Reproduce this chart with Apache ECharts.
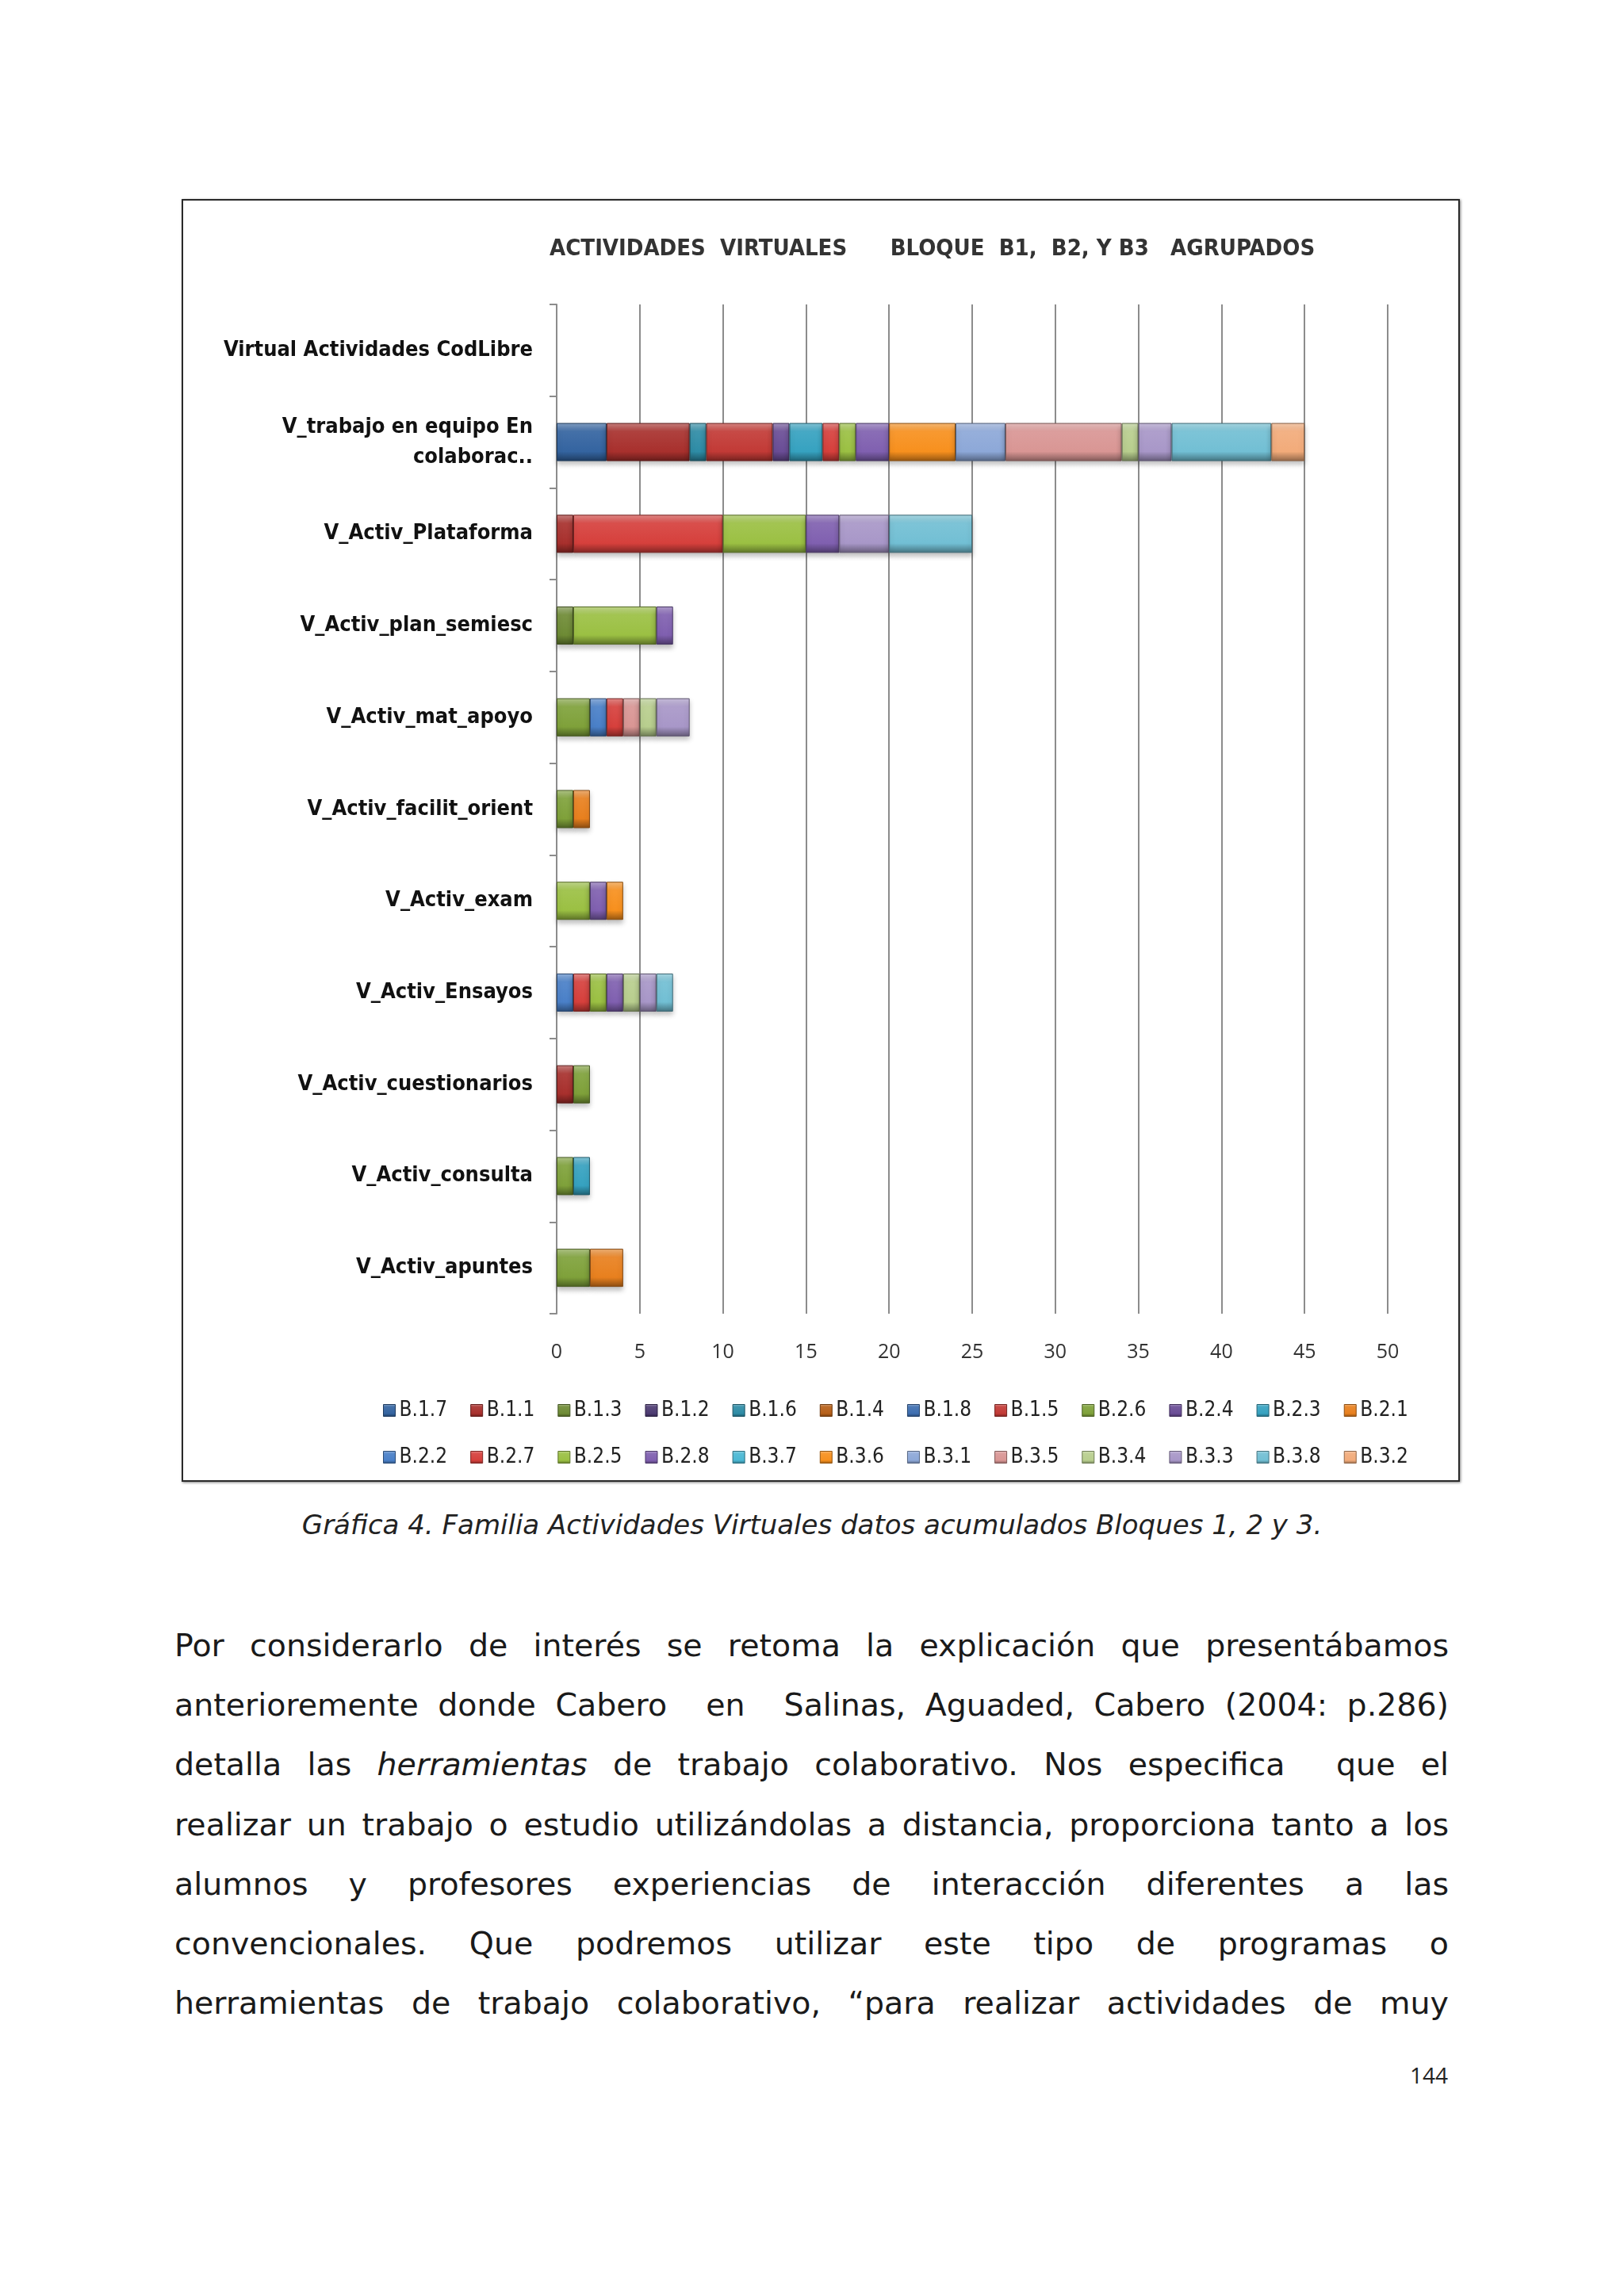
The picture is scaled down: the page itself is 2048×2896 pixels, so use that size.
<!DOCTYPE html>
<html><head><meta charset="utf-8">
<script src="https://cdn.jsdelivr.net/npm/echarts@6/dist/echarts.min.js"></script>
<style>
html,body{margin:0;padding:0;background:#fff;width:2048px;height:2896px;position:relative;overflow:hidden;}
#box{position:absolute;left:229px;top:251px;width:1608px;height:1614px;border:2px solid #2a2a2a;box-shadow:1px 1px 3px rgba(0,0,0,0.5);}
#chart{width:1608px;height:1614px;}
#caption{position:absolute;left:0;width:2048px;top:1900px;text-align:center;font-family:"DejaVu Sans",Verdana,sans-serif;font-style:italic;font-size:34px;line-height:46px;color:#222;}
#body{position:absolute;left:220px;width:1607px;top:2038px;font-family:"DejaVu Sans",Verdana,sans-serif;font-size:39.5px;color:#1a1a1a;}
#body div{height:75.2px;line-height:75.2px;text-align:justify;text-align-last:justify;}
#pnum{position:absolute;right:222px;top:2598px;font-family:"Open Sans",sans-serif;font-size:28px;color:#222;}
</style></head>
<body>
<div id="box"><div id="chart"></div></div>
<div id="caption">Gráfica 4. Familia Actividades Virtuales datos acumulados Bloques 1, 2 y 3.</div>
<div id="body">
<div>Por considerarlo de interés se retoma la explicación que presentábamos</div>
<div>anterioremente donde Cabero&nbsp; en&nbsp; Salinas, Aguaded, Cabero (2004: p.286)</div>
<div>detalla las <i>herramientas</i> de trabajo colaborativo. Nos especifica&nbsp; que el</div>
<div>realizar un trabajo o estudio utilizándolas a distancia, proporciona tanto a los</div>
<div>alumnos y profesores experiencias de interacción diferentes a las</div>
<div>convencionales. Que podremos utilizar este tipo de programas o</div>
<div>herramientas de trabajo colaborativo, “para realizar actividades de muy</div>
</div>
<div id="pnum">144</div>
<script>
// Categories, bottom to top
const categories = ['V_Activ_apuntes','V_Activ_consulta','V_Activ_cuestionarios','V_Activ_Ensayos','V_Activ_exam','V_Activ_facilit_orient','V_Activ_mat_apoyo','V_Activ_plan_semiesc','V_Activ_Plataforma','V_trabajo en equipo En\ncolaborac..','Virtual Actividades CodLibre'];
const xTicks = [0,5,10,15,20,25,30,35,40,45,50];
const seriesNames = ['B.1.7','B.1.1','B.1.3','B.1.2','B.1.6','B.1.4','B.1.8','B.1.5','B.2.6','B.2.4','B.2.3','B.2.1','B.2.2','B.2.7','B.2.5','B.2.8','B.3.7','B.3.6','B.3.1','B.3.5','B.3.4','B.3.3','B.3.8','B.3.2'];
// values per series, in category order (apuntes ... CodLibre)
const vB17 = [0,0,0,0,0,0,0,0,0,3,0];
const vB11 = [0,0,1,0,0,0,0,0,1,5,0];
const vB13 = [0,0,0,0,0,0,0,1,0,0,0];
const vB12 = [0,0,0,0,0,0,0,0,0,0,0];
const vB16 = [0,0,0,0,0,0,0,0,0,1,0];
const vB14 = [0,0,0,0,0,0,0,0,0,0,0];
const vB18 = [0,0,0,0,0,0,0,0,0,0,0];
const vB15 = [0,0,0,0,0,0,0,0,0,4,0];
const vB26 = [2,1,1,0,0,1,2,0,0,0,0];
const vB24 = [0,0,0,0,0,0,0,0,0,1,0];
const vB23 = [0,1,0,0,0,0,0,0,0,2,0];
const vB21 = [2,0,0,0,0,1,0,0,0,0,0];
const vB22 = [0,0,0,1,0,0,1,0,0,0,0];
const vB27 = [0,0,0,1,0,0,1,0,9,1,0];
const vB25 = [0,0,0,1,2,0,0,5,5,1,0];
const vB28 = [0,0,0,1,1,0,0,1,2,2,0];
const vB37 = [0,0,0,0,0,0,0,0,0,0,0];
const vB36 = [0,0,0,0,1,0,0,0,0,4,0];
const vB31 = [0,0,0,0,0,0,0,0,0,3,0];
const vB35 = [0,0,0,0,0,0,1,0,0,7,0];
const vB34 = [0,0,0,1,0,0,1,0,0,1,0];
const vB33 = [0,0,0,1,0,0,2,0,3,2,0];
const vB38 = [0,0,0,1,0,0,0,0,5,6,0];
const vB32 = [0,0,0,0,0,0,0,0,0,2,0];
const seriesValues = [vB17,vB11,vB13,vB12,vB16,vB14,vB18,vB15,vB26,vB24,vB23,vB21,vB22,vB27,vB25,vB28,vB37,vB36,vB31,vB35,vB34,vB33,vB38,vB32];
const colors = ['#3464A0','#A8302D','#6E8B35','#4D3B72','#2E8CA6','#B65F18','#3E6EB0','#C23A36','#7FA13A','#6A4D96','#36A2C0','#E8801E','#4A80C8','#D6403C','#9BC043','#8060B0','#4BB8D4','#F7901E','#8DA8D8','#D99694','#B8CE8E','#A897C8','#72BFD4','#F2AB7A'];

function shade(hex, f){
  let r=parseInt(hex.substr(1,2),16),g=parseInt(hex.substr(3,2),16),b=parseInt(hex.substr(5,2),16);
  if(f>0){r=r+(255-r)*f;g=g+(255-g)*f;b=b+(255-b)*f;}else{r=r*(1+f);g=g*(1+f);b=b*(1+f);}
  return 'rgb('+Math.round(r)+','+Math.round(g)+','+Math.round(b)+')';
}
function grad(c){
  return new echarts.graphic.LinearGradient(0,0,0,1,[
    {offset:0,color:shade(c,0.4)},{offset:0.22,color:shade(c,0.08)},
    {offset:0.75,color:c},{offset:1,color:shade(c,-0.4)}]);
}

const chart = echarts.init(document.getElementById('chart'),null,{renderer:'canvas'});
const series = seriesNames.map((n,i)=>({
  name:n,type:'bar',stack:'total',barWidth:48,
  data:seriesValues[i].map(v=>v===0?'-':v),
  itemStyle:{color:grad(colors[i]),borderColor:shade(colors[i],-0.45),borderWidth:1,
    shadowColor:'rgba(0,0,0,0.25)',shadowBlur:6,shadowOffsetY:4},
  emphasis:{disabled:true}
}));
const legendFont = {fontFamily:'"DejaVu Sans Condensed","Open Sans",sans-serif',fontSize:26,color:'#222'};
function legendData(a,b){return seriesNames.slice(a,b).map((n,k)=>({name:n,itemStyle:{color:grad(colors[a+k]),borderColor:shade(colors[a+k],-0.4),borderWidth:1}}));}
chart.setOption({
  animation:false,
  backgroundColor:'#fff',
  title:{text:'ACTIVIDADES  VIRTUALES      BLOQUE  B1,  B2, Y B3   AGRUPADOS',left:457,top:42,
    textStyle:{fontFamily:'"Liberation Sans Narrow","DejaVu Sans Condensed","Open Sans",sans-serif',fontWeight:'bold',fontSize:29,color:'#333'}},
  legend:[
    {data:legendData(0,12),left:247,top:1508,itemWidth:15,itemHeight:15,itemGap:29,icon:'rect',textStyle:legendFont,selectedMode:false},
    {data:legendData(12,24),left:247,top:1567,itemWidth:15,itemHeight:15,itemGap:29,icon:'rect',textStyle:legendFont,selectedMode:false}
  ],
  grid:{left:471,right:89,top:131,bottom:210,containLabel:false},
  xAxis:{type:'value',min:0,max:50,interval:5,
    axisLine:{show:false},axisTick:{show:false},
    axisLabel:{margin:36,fontFamily:'"Open Sans",sans-serif',fontSize:25,color:'#333',
      formatter:v=>xTicks.indexOf(v)>=0?String(v):''},
    splitLine:{show:true,lineStyle:{color:'#8c8c8c',width:2}}},
  yAxis:{type:'category',data:categories,
    axisLine:{show:true,lineStyle:{color:'#8c8c8c',width:2}},
    axisTick:{show:true,length:9,alignWithLabel:false,lineStyle:{color:'#8c8c8c',width:2}},
    axisLabel:{margin:30,fontFamily:'"Liberation Sans Narrow","DejaVu Sans Condensed","Open Sans",sans-serif',fontWeight:'bold',fontSize:27,color:'#111',lineHeight:38}},
  series:series
});
</script>
</body></html>
